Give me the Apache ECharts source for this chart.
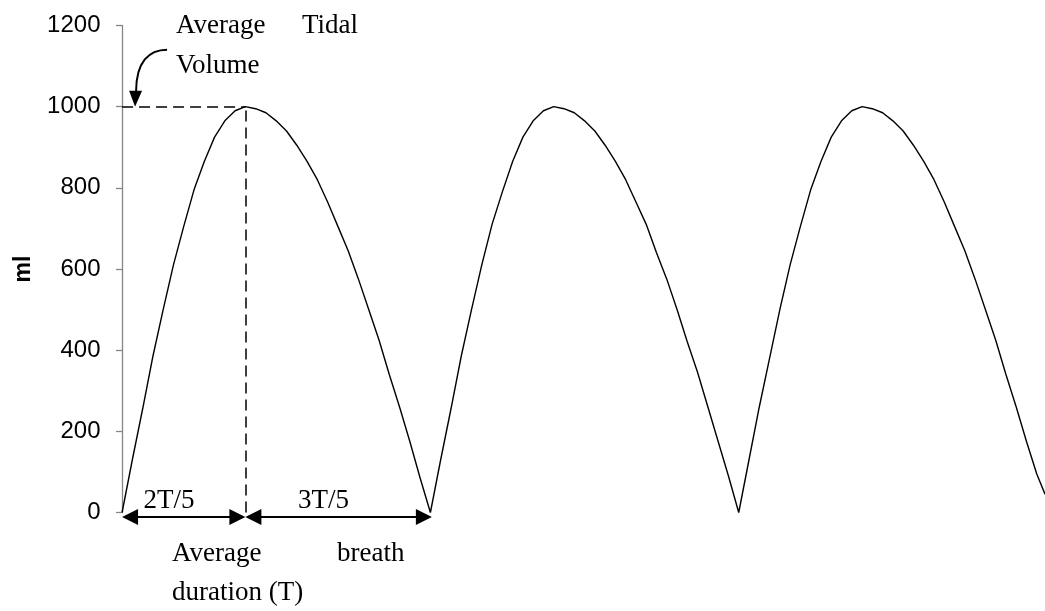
<!DOCTYPE html>
<html>
<head>
<meta charset="utf-8">
<script src="https://cdn.jsdelivr.net/npm/echarts@6/dist/echarts.min.js"></script>
<style>
html,body{margin:0;padding:0;background:#fff;}
#chart{width:1045px;height:611px;}
</style>
</head>
<body>
<div id="chart"></div>
<script>
// sample index (30 samples per breath period T)
const time = [
  0,1,2,3,4,5,6,7,8,9,10,11,12,13,14,15,16,17,18,19,20,21,22,23,24,25,26,27,28,29,
  30,31,32,33,34,35,36,37,38,39,40,41,42,43,44,45,46,47,48,49,50,51,52,53,54,55,56,57,58,59,
  60,61,62,63,64,65,66,67,68,69,70,71,72,73,74,75,76,77,78,79,80,81,82,83,84,85,86,87,88,89,89.8
];
// lung volume, ml
const volume = [
  0,130,255,385,500,610,705,795,865,925,965,990,1000,995,985,965,940,905,865,820,765,705,645,575,500,425,340,260,175,85,
  0,130,255,385,500,610,710,790,865,925,965,990,1000,995,985,965,940,905,865,820,765,710,640,575,500,420,345,260,175,90,
  0,130,260,380,500,610,705,795,865,925,965,990,1000,995,985,965,940,905,865,820,765,705,645,575,500,425,340,260,175,95,45
];
const yTicks = [0, 200, 400, 600, 800, 1000, 1200];
const tidalVolume = 1000;
const inspEnd = 12;   // 2T/5
const breathEnd = 30; // T

const chart = echarts.init(document.getElementById('chart'), null, {renderer: 'canvas'});
const seriesData = time.map((t, i) => [t, volume[i]]);

chart.setOption({
  animation: false,
  backgroundColor: '#ffffff',
  grid: {left: 119.5, right: 0, top: 25.5, bottom: 98.5},
  xAxis: {type: 'value', min: -0.25, max: 89.8, show: false},
  yAxis: {
    type: 'value', min: yTicks[0], max: yTicks[yTicks.length - 1], interval: 200,
    name: 'ml', nameLocation: 'middle', nameGap: 84, nameRotate: 90,
    nameTextStyle: {fontFamily: 'Liberation Sans', fontWeight: 'bold', fontSize: 23, color: '#000'},
    axisLine: {show: true, lineStyle: {color: '#868686', width: 1.3}},
    axisTick: {show: true, length: 6, lineStyle: {color: '#868686', width: 1.3}},
    axisLabel: {fontFamily: 'Liberation Sans', fontSize: 24, color: '#000', margin: 19,
      formatter: v => String(v)},
    splitLine: {show: false}
  },
  series: [{
    type: 'line', data: seriesData, symbol: 'none', clip: false,
    lineStyle: {color: '#000', width: 1.4},
    markLine: {
      silent: true, symbol: 'none', label: {show: false},
      lineStyle: {color: '#000', width: 1.5, type: [11, 6]},
      data: [
        [{coord: [0, tidalVolume]}, {coord: [inspEnd, tidalVolume]}],
        [{coord: [inspEnd, 0]}, {coord: [inspEnd, tidalVolume]}]
      ]
    }
  }]
});

function px(x, y) { return chart.convertToPixel({xAxisIndex: 0, yAxisIndex: 0}, [x, y]); }
const p0 = px(0, 0), pPeak = px(inspEnd, tidalVolume), pZero = px(breathEnd, 0), pTop = px(0, tidalVolume);
const ay = p0[1] + 4.5;
const serif = 'Liberation Serif';
const fs = 27;
function txt(text, x, y, align) {
  return {type: 'text', x: x, y: y, silent: true,
    style: {text: text, fontFamily: serif, fontSize: fs, fill: '#000', align: align || 'left', verticalAlign: 'middle'}};
}
function dblArrow(x1, x2, y) {
  const L = 16, H = 8;
  return [
    {type: 'line', silent: true, shape: {x1: x1 + L - 2, y1: y, x2: x2 - L + 2, y2: y}, style: {stroke: '#000', lineWidth: 2}},
    {type: 'polygon', silent: true, shape: {points: [[x1, y], [x1 + L, y - H], [x1 + L, y + H]]}, style: {fill: '#000'}},
    {type: 'polygon', silent: true, shape: {points: [[x2, y], [x2 - L, y - H], [x2 - L, y + H]]}, style: {fill: '#000'}}
  ];
}
const tipX = pTop[0] + 13, tipY = pTop[1];
const graphics = [].concat(
  dblArrow(p0[0], pPeak[0], ay),
  dblArrow(pPeak[0], pZero[0] + 1.5, ay),
  [
    txt('2T/5', p0[0] + 47, p0[1] - 12, 'center'),
    txt('3T/5', pPeak[0] + 78, p0[1] - 12, 'center'),
    txt('Average', pTop[0] + 54, pTop[1] - 81),
    txt('Tidal', pTop[0] + 180, pTop[1] - 81),
    txt('Volume', pTop[0] + 54, pTop[1] - 41),
    txt('Average', p0[0] + 50, p0[1] + 41),
    txt('breath', p0[0] + 215, p0[1] + 41),
    txt('duration (T)', p0[0] + 50, p0[1] + 80),
    {type: 'bezierCurve', silent: true,
      shape: {x1: tipX + 32, y1: tipY - 57, cpx1: tipX + 14, cpy1: tipY - 57, cpx2: tipX + 1, cpy2: tipY - 45, x2: tipX + 1, y2: tipY - 15},
      style: {stroke: '#000', lineWidth: 2, fill: null}},
    {type: 'polygon', silent: true, shape: {points: [[tipX - 6, tipY - 16], [tipX + 7, tipY - 16], [tipX, tipY]]}, style: {fill: '#000'}}
  ]
);
chart.setOption({graphic: graphics});
</script>
</body>
</html>
